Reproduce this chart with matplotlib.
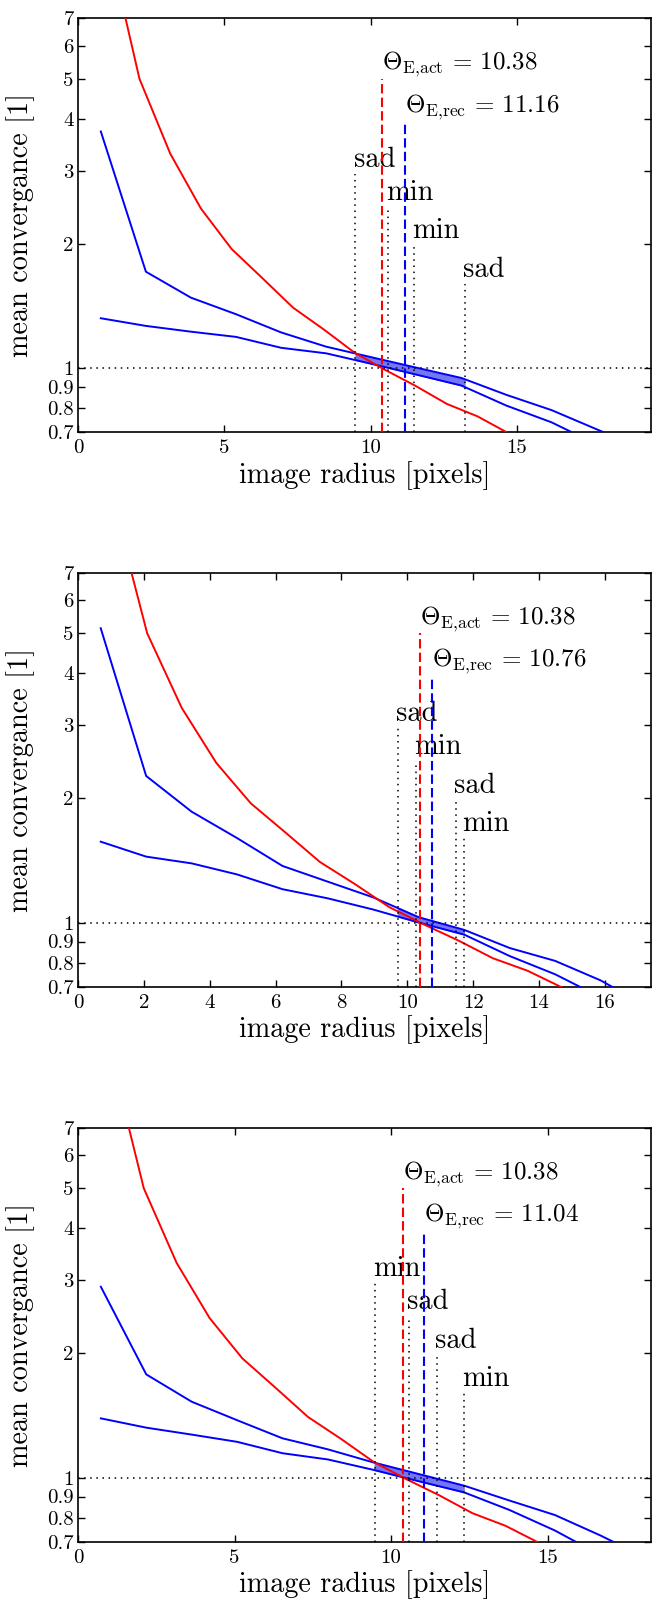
import numpy as np
import matplotlib
matplotlib.use("Agg")
import matplotlib.pyplot as plt

plt.rcParams['font.family'] = ['cmr10', 'DejaVu Serif']
plt.rcParams['mathtext.fontset'] = 'cm'
plt.rcParams['axes.formatter.use_mathtext'] = True
plt.rcParams['axes.unicode_minus'] = False

# ---------------- data ----------------
# actual (true) mean convergence profile (same in all panels)
red_x = [1.05, 2.1, 3.15, 4.2, 5.25, 6.3, 7.35, 8.4, 9.45, 10.5, 11.55, 12.6, 13.65, 14.7, 15.75]
red_y = [10.5, 5.0, 3.3, 2.43, 1.94, 1.65, 1.40, 1.24, 1.09, 0.99, 0.905, 0.82, 0.765, 0.697, 0.64]

theta_act = 10.38

# panel 1
p1_x = [0.78, 2.32, 3.86, 5.40, 6.94, 8.48, 10.02, 11.56, 13.10, 14.64, 16.18, 17.72, 19.26]
p1_upper = [3.73, 1.71, 1.48, 1.35, 1.22, 1.127, 1.063, 1.003, 0.947, 0.862, 0.792, 0.712, 0.64]
p1_lower = [1.32, 1.265, 1.225, 1.19, 1.12, 1.086, 1.025, 0.965, 0.908, 0.812, 0.74, 0.655, 0.59]
p1_img_x = [9.48, 10.59, 11.47, 13.21]
p1_img_type = ['sad', 'min', 'min', 'sad']
p1_theta_rec = 11.16
p1_xlim = 19.58
p1_xticks = [0, 5, 10, 15]

# panel 2
p2_x = [0.69, 2.07, 3.45, 4.83, 6.21, 7.59, 8.97, 10.35, 11.73, 13.11, 14.49, 15.87, 17.25]
p2_upper = [5.14, 2.26, 1.853, 1.60, 1.37, 1.255, 1.15, 1.03, 0.96, 0.868, 0.808, 0.725, 0.63]
p2_lower = [1.568, 1.443, 1.39, 1.307, 1.204, 1.144, 1.075, 1.0, 0.935, 0.83, 0.75, 0.66, 0.58]
p2_img_x = [9.71, 10.27, 11.47, 11.72]
p2_img_type = ['sad', 'min', 'sad', 'min']
p2_theta_rec = 10.76
p2_xlim = 17.4
p2_xticks = [0, 2, 4, 6, 8, 10, 12, 14, 16]

# panel 3
p3_x = [0.73, 2.18, 3.63, 5.08, 6.53, 7.98, 9.43, 10.88, 12.33, 13.78, 15.23, 16.68, 18.13]
p3_upper = [2.89, 1.775, 1.525, 1.376, 1.244, 1.17, 1.088, 1.02, 0.956, 0.88, 0.812, 0.725, 0.64]
p3_lower = [1.39, 1.32, 1.27, 1.22, 1.145, 1.106, 1.044, 0.98, 0.921, 0.835, 0.745, 0.65, 0.57]
p3_img_x = [9.47, 10.57, 11.45, 12.32]
p3_img_type = ['min', 'sad', 'sad', 'min']
p3_theta_rec = 11.04
p3_xlim = 18.3
p3_xticks = [0, 5, 10, 15]

img_heights = [2.95, 2.45, 1.98, 1.6]
act_top = 5.0
rec_top = 3.95

y_ticks = [0.7, 0.8, 0.9, 1, 2, 3, 4, 5, 6, 7]
y_ticklabels = ['0.7', '0.8', '0.9', '1', '2', '3', '4', '5', '6', '7']

panels = [
    (p1_x, p1_upper, p1_lower, p1_img_x, p1_img_type, p1_theta_rec, p1_xlim, p1_xticks),
    (p2_x, p2_upper, p2_lower, p2_img_x, p2_img_type, p2_theta_rec, p2_xlim, p2_xticks),
    (p3_x, p3_upper, p3_lower, p3_img_x, p3_img_type, p3_theta_rec, p3_xlim, p3_xticks),
]

# ---------------- layout ----------------
W, H = 660, 1601
fig = plt.figure(figsize=(W / 100, H / 100), dpi=100)
left = 78 / W
width = (651 - 78) / W
height = 414 / H
bottoms = [1 - 432.3 / H, 1 - 986.7 / H, 1 - 1541.7 / H]

dot = (0, (1, 3))
dash = (0, (4.5, 2))

for (px, pu, pl, ix, itype, trec, xmax, xt), b in zip(panels, bottoms):
    ax = fig.add_axes([left, b, width, height])
    ax.set_yscale('log')

    # shaded band between the two reconstructed curves over the image range
    xl, xr = ix[0], ix[-1]
    pxa = np.array(px)
    inner = pxa[(pxa > xl) & (pxa < xr)]
    xs = np.concatenate([[xl], inner, [xr]])
    up = np.exp(np.interp(xs, pxa, np.log(pu)))
    lo = np.exp(np.interp(xs, pxa, np.log(pl)))
    ax.fill_between(xs, lo, up, facecolor='#7676f2', edgecolor='#6a6ad8', lw=0.6, zorder=2)

    ax.plot(px, pu, color='#0000ff', lw=1.4, zorder=3)
    ax.plot(px, pl, color='#0000ff', lw=1.4, zorder=3)
    ax.plot(red_x, red_y, color='#ff0000', lw=1.4, zorder=4)

    # horizontal line at 1
    ax.plot([0, xmax], [1, 1], color='black', lw=1.1, linestyle=dot, zorder=5)

    # image positions
    for x, t, h in zip(ix, itype, img_heights):
        ax.plot([x, x], [0.7, h], color='black', lw=1.1, linestyle=dot, zorder=5)
        ax.text(x - 0.05, h * 1.04, t, fontsize=20.5, ha='left', va='baseline', zorder=6)

    # Einstein radii
    ax.plot([theta_act, theta_act], [0.7, act_top], color='#ff0000', lw=1.5, linestyle=dash, zorder=6)
    ax.plot([trec, trec], [0.7, rec_top], color='#0000ff', lw=1.5, linestyle=dash, zorder=6)
    ax.text(theta_act, act_top * 1.052, r'$\Theta_{\mathrm{E{,}act}}\,=\,%.2f$' % theta_act,
            fontsize=18, ha='left', va='baseline', zorder=6)
    ax.text(trec, rec_top * 1.052, r'$\Theta_{\mathrm{E{,}rec}}\,=\,%.2f$' % trec,
            fontsize=18, ha='left', va='baseline', zorder=6)

    ax.set_xlim(0, xmax)
    ax.set_ylim(0.7, 7)
    ax.set_xticks(xt)
    ax.set_xticklabels([str(v) for v in xt])
    ax.set_yticks(y_ticks)
    ax.set_yticklabels(y_ticklabels)
    ax.minorticks_off()
    ax.tick_params(direction='in', top=True, right=True, length=5, width=1.0,
                   labelsize=15)
    ax.tick_params(axis='x', pad=5)
    ax.tick_params(axis='y', pad=3)
    for s in ax.spines.values():
        s.set_linewidth(1.2)

    ax.set_xlabel('image radius [pixels]', fontsize=20.3)
    ax.set_ylabel('mean convergance [1]', fontsize=20.3)
    ax.xaxis.set_label_coords(0.5, -0.07)
    ax.yaxis.set_label_coords(-0.075, 0.5)

fig.savefig('out.png', dpi=100)
